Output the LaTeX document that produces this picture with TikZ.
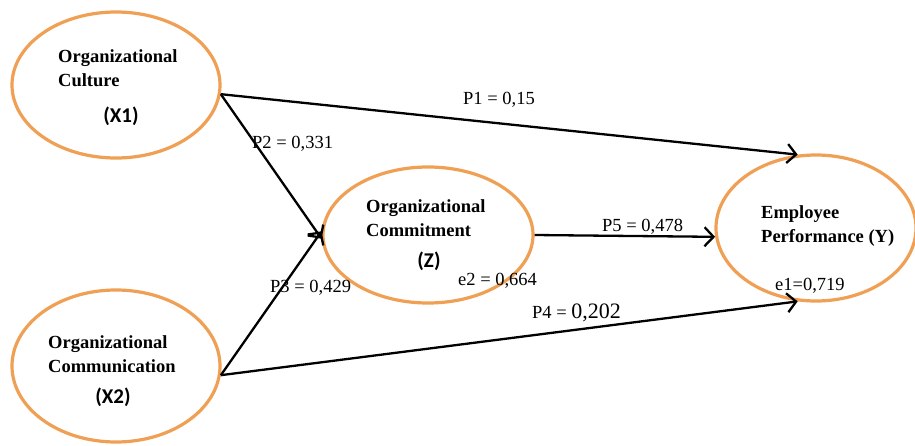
\documentclass[tikz,border=0pt]{standalone}
\usepackage{fontspec}
\setmainfont{Liberation Serif}
\newfontfamily\calfont{Carlito}
\usetikzlibrary{shapes.geometric,arrows.meta}
\definecolor{ell}{RGB}{240,160,84}
\tikzset{
  latent/.style={ellipse,draw=ell,line width=3.2pt,inner sep=0pt},
  lbl/.style={font=\bfseries\fontsize{18.5}{23.5}\selectfont,align=left,anchor=base west,inner sep=0pt},
  tag/.style={font=\calfont\bfseries\fontsize{21}{22}\selectfont,inner sep=0pt},
  coef/.style={font=\fontsize{18.5}{20}\selectfont,anchor=base west,inner sep=0pt},
  path/.style={line width=2.3pt,-{Straight Barb[length=9pt,width=19pt,line width=2.3pt]}}
}
\begin{document}
\begin{tikzpicture}[x=1pt,y=-1pt]
\fill[white] (0,0) rectangle (915,445);
\useasboundingbox (0,0) rectangle (915,445);
% ellipses
\node[latent,minimum width=208pt,minimum height=146pt] (x1) at (116,85) {};
\node[latent,minimum width=208pt,minimum height=152pt] (x2) at (116,366) {};
\node[latent,minimum width=210pt,minimum height=136pt] (z) at (428,235) {};
\node[latent,minimum width=200pt,minimum height=146pt] (y) at (816,228) {};
% texts
\node[lbl] (tx1) at (58,86) {Organizational\\Culture};
\node[tag] (tx1b) at (121,116) {(X1)};
\node[lbl] (tx2) at (48,372) {Organizational\\Communication};
\node[tag] (tx2b) at (113,397) {(X2)};
\node[lbl] (tz) at (366,236) {Organizational\\Commitment};
\node[tag] (tzb) at (429,261) {(Z)};
\node[lbl] (ty) at (761,242) {Employee\\Performance (Y)};
% paths
\draw[path] (x1.-5) -- (y.104);
\draw[path] (x1.-5) -- (z.182);
\draw[path] (x2.-5) -- (z.178);
\draw[path] (x2.-5) -- (y.-104);
\draw[path] (z.east) -- (y.185);
% coefficients
\node[coef] (c1) at (463,104) {P1 = 0,15};
\node[coef] (c2) at (252,148) {P2 = 0,331};
\node[coef] (c3) at (270,292) {P3 = 0,429};
\node[coef] (ce2) at (458,285) {e2 = 0,664};
\node[coef] (c4) at (532,318) {P4 = {\fontsize{22}{23}\selectfont 0,202}};
\node[coef] (c5) at (602,231) {P5 = 0,478};
\node[coef] (ce1) at (775,290) {e1=0,719};
\end{tikzpicture}
\end{document}
